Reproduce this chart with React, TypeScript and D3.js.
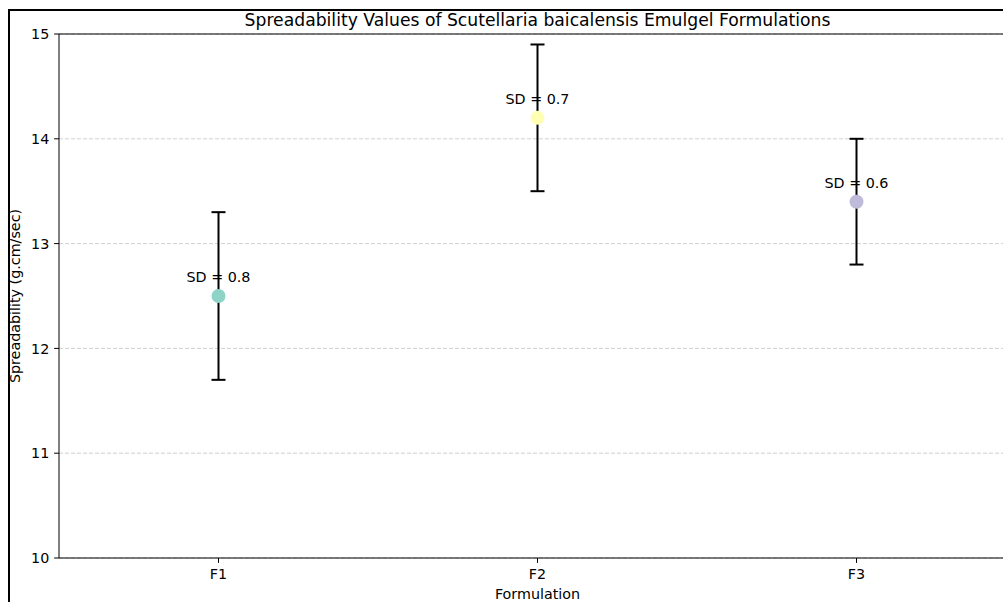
import { useEffect, useRef } from "react";
import * as d3 from "d3";

const width = 1003;
const height = 602;
const margin = { top: 34, right: -13, bottom: 44, left: 59 };

const formulations = ["F1", "F2", "F3"];
const means = [12.5, 14.2, 13.4];
const sds = [0.8, 0.7, 0.6];
const colors = ["#8dd3c7", "#ffffb3", "#bebada"];
const yTicks = [10, 11, 12, 13, 14, 15];

const font = "'DejaVu Sans', sans-serif";
const fs = 14.3;

export default function App() {
  const d3Node = useRef<SVGSVGElement | null>(null);

  useEffect(() => {
    const svg = d3.select(d3Node.current);
    svg.selectAll("*").remove();

    const x = d3
      .scalePoint<string>()
      .domain(formulations)
      .range([margin.left, width - margin.right])
      .padding(0.5);
    const y = d3
      .scaleLinear()
      .domain([10, 15])
      .range([height - margin.bottom, margin.top]);

    const x0 = margin.left;
    const x1 = width - margin.right;

    // grid
    svg
      .append("g")
      .selectAll("line")
      .data(yTicks)
      .enter()
      .append("line")
      .attr("x1", x0)
      .attr("x2", x1)
      .attr("y1", (d) => y(d))
      .attr("y2", (d) => y(d))
      .attr("stroke", "#a8a8a8")
      .attr("stroke-opacity", 0.7)
      .attr("stroke-width", 0.8)
      .attr("stroke-dasharray", "4,2");

    // y ticks
    const yAxis = svg.append("g");
    yAxis
      .selectAll("line")
      .data(yTicks)
      .enter()
      .append("line")
      .attr("x1", x0 - 4.9)
      .attr("x2", x0)
      .attr("y1", (d) => y(d))
      .attr("y2", (d) => y(d))
      .attr("stroke", "#000")
      .attr("stroke-width", 1);
    yAxis
      .selectAll("text")
      .data(yTicks)
      .enter()
      .append("text")
      .attr("x", x0 - 9.7)
      .attr("y", (d) => y(d) + 5.2)
      .attr("text-anchor", "end")
      .attr("font-family", font)
      .attr("font-size", fs)
      .attr("fill", "#000")
      .text((d) => d);

    // x ticks
    const xAxis = svg.append("g");
    xAxis
      .selectAll("line")
      .data(formulations)
      .enter()
      .append("line")
      .attr("x1", (d) => x(d)!)
      .attr("x2", (d) => x(d)!)
      .attr("y1", y(10))
      .attr("y2", y(10) + 4.9)
      .attr("stroke", "#000")
      .attr("stroke-width", 1);
    xAxis
      .selectAll("text")
      .data(formulations)
      .enter()
      .append("text")
      .attr("x", (d) => x(d)!)
      .attr("y", y(10) + 21.2)
      .attr("text-anchor", "middle")
      .attr("font-family", font)
      .attr("font-size", fs)
      .attr("fill", "#000")
      .text((d) => d);

    // spines
    svg
      .append("path")
      .attr("d", `M${x1},${margin.top}H${x0}V${y(10)}H${x1}`)
      .attr("fill", "none")
      .attr("stroke", "#000")
      .attr("stroke-width", 1);

    // error bars
    const bars = svg
      .append("g")
      .selectAll("g")
      .data(formulations)
      .enter()
      .append("g");
    bars
      .append("line")
      .attr("x1", (d) => x(d)!)
      .attr("x2", (d) => x(d)!)
      .attr("y1", (d, i) => y(means[i] - sds[i]))
      .attr("y2", (d, i) => y(means[i] + sds[i]))
      .attr("stroke", "#000")
      .attr("stroke-width", 2);
    [-1, 1].forEach((s) => {
      bars
        .append("line")
        .attr("x1", (d) => x(d)! - 7)
        .attr("x2", (d) => x(d)! + 7)
        .attr("y1", (d, i) => y(means[i] + s * sds[i]))
        .attr("y2", (d, i) => y(means[i] + s * sds[i]))
        .attr("stroke", "#000")
        .attr("stroke-width", 2);
    });
    bars
      .append("circle")
      .attr("cx", (d) => x(d)!)
      .attr("cy", (d, i) => y(means[i]))
      .attr("r", 7)
      .attr("fill", (d, i) => colors[i]);
    bars
      .append("text")
      .attr("x", (d) => x(d)!)
      .attr("y", (d, i) => y(means[i] + 0.1) - 3.3)
      .attr("text-anchor", "middle")
      .attr("font-family", font)
      .attr("font-size", fs)
      .attr("fill", "#000")
      .text((d, i) => `SD = ${sds[i]}`);

    // labels
    svg
      .append("text")
      .attr("x", (x0 + x1) / 2)
      .attr("y", 25.7)
      .attr("text-anchor", "middle")
      .attr("font-family", font)
      .attr("font-size", 17.2)
      .attr("fill", "#000")
      .text("Spreadability Values of Scutellaria baicalensis Emulgel Formulations");
    svg
      .append("text")
      .attr("x", (x0 + x1) / 2)
      .attr("y", 598.6)
      .attr("text-anchor", "middle")
      .attr("font-family", font)
      .attr("font-size", fs)
      .attr("fill", "#000")
      .text("Formulation");
    svg
      .append("text")
      .attr("transform", `translate(20,${(margin.top + y(10)) / 2}) rotate(-90)`)
      .attr("text-anchor", "middle")
      .attr("font-family", font)
      .attr("font-size", fs)
      .attr("fill", "#000")
      .text("Spreadability (g.cm/sec)");

    // outer frame
    svg
      .append("path")
      .attr("d", `M9,${height}V10H${width}`)
      .attr("fill", "none")
      .attr("stroke", "#000")
      .attr("stroke-width", 2);
  }, []);

  return (
    <svg
      ref={d3Node}
      width={width}
      height={height}
      style={{ position: "absolute", left: 0, top: 0, background: "#fff" }}
    />
  );
}
